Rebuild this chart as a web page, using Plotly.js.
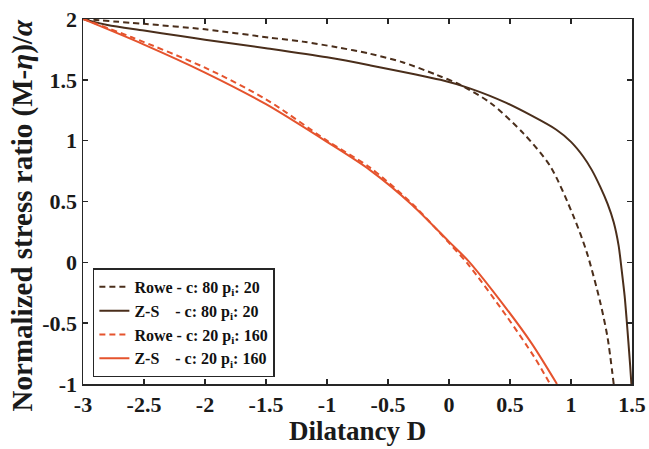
<!DOCTYPE html>
<html>
<head>
<meta charset="utf-8">
<script src="https://cdn.plot.ly/plotly-3.0.1.min.js"></script>
<style>html,body{margin:0;padding:0;background:#fff;}#chart{width:649px;height:449px;}</style>
</head>
<body>
<div id="chart"></div>
<script>
// Rowe - c: 80 pi: 20 (dashed, dark brown)
const roweC80X = [-3, -2.5, -2.0, -1.47, -1.2, -0.92, -0.65, -0.38, -0.1, 0.09, 0.34, 0.61, 0.83, 1.02, 1.13, 1.24, 1.30, 1.35];
const roweC80Y = [2.0, 1.96, 1.915, 1.847, 1.814, 1.768, 1.715, 1.645, 1.54, 1.46, 1.31, 1.06, 0.79, 0.38, 0.08, -0.33, -0.62, -1.0];
// Z-S - c: 80 pi: 20 (solid, dark brown)
const zsC80X = [-3, -2.8, -2.5, -2.2, -2.0, -1.5, -1.0, -0.65, -0.07, 0.17, 0.47, 0.88, 1.0, 1.10, 1.17, 1.24, 1.30, 1.35, 1.39, 1.415, 1.44, 1.456, 1.47, 1.485, 1.495];
const zsC80Y = [2.0, 1.95, 1.905, 1.86, 1.83, 1.76, 1.685, 1.62, 1.50, 1.43, 1.31, 1.09, 0.99, 0.87, 0.76, 0.62, 0.48, 0.33, 0.14, -0.06, -0.28, -0.47, -0.65, -0.85, -1.0];
// Rowe - c: 20 pi: 160 (dashed, orange)
const roweC20X = [-3, -2.6, -2.0, -1.5, -1.0, -0.65, -0.3, 0.0, 0.16, 0.47, 0.70, 0.828];
const roweC20Y = [2.0, 1.85, 1.60, 1.34, 1.00, 0.78, 0.48, 0.16, -0.02, -0.44, -0.78, -1.0];
// Z-S - c: 20 pi: 160 (solid, orange)
const zsC20X = [-3, -2.5, -2.0, -1.5, -1.0, -0.65, -0.3, 0.0, 0.16, 0.47, 0.68, 0.885];
const zsC20Y = [2.0, 1.79, 1.56, 1.30, 0.99, 0.76, 0.47, 0.17, 0.01, -0.38, -0.67, -1.0];

const xTicks = [-3, -2.5, -2, -1.5, -1, -0.5, 0, 0.5, 1, 1.5];
const yTicks = [-1, -0.5, 0, 0.5, 1, 1.5, 2];

const brown = '#4a2e1b';
const orange = '#e5532d';
const fontFam = 'Liberation Serif, Times New Roman, serif';

const traces = [
  {x: roweC80X, y: roweC80Y, mode: 'lines', line: {color: brown, width: 2, dash: '6px,4px', shape: 'spline', smoothing: 0.8}, name: 'Rowe - c: 80 p<sub>i</sub>: 20'},
  {x: zsC80X, y: zsC80Y, mode: 'lines', line: {color: brown, width: 2, shape: 'spline', smoothing: 0.8}, name: 'Z-S &nbsp;&nbsp;&nbsp;- c: 80 p<sub>i</sub>: 20'},
  {x: roweC20X, y: roweC20Y, mode: 'lines', line: {color: orange, width: 2, dash: '6px,4px', shape: 'spline', smoothing: 0.8}, name: 'Rowe - c: 20 p<sub>i</sub>: 160'},
  {x: zsC20X, y: zsC20Y, mode: 'lines', line: {color: orange, width: 2, shape: 'spline', smoothing: 0.8}, name: 'Z-S &nbsp;&nbsp;&nbsp;- c: 20 p<sub>i</sub>: 160'}
];

const axisCommon = {
  showgrid: false, zeroline: false, showline: true, linecolor: '#262626', linewidth: 1.5,
  mirror: 'ticks', ticks: 'inside', ticklen: 5, tickcolor: '#262626', tickwidth: 1.5,
  tickfont: {family: fontFam, size: 22, color: '#1a1a1a', weight: 700}
};

const layout = {
  width: 649, height: 449,
  margin: {l: 83, r: 17, t: 19, b: 65},
  paper_bgcolor: '#fff', plot_bgcolor: '#fff',
  showlegend: true,
  xaxis: Object.assign({}, axisCommon, {
    range: [-3, 1.5], tickvals: xTicks, ticktext: xTicks.map(String)
  }),
  yaxis: Object.assign({}, axisCommon, {
    range: [-1, 2], tickvals: yTicks, ticktext: yTicks.map(String)
  }),
  annotations: [{
    text: 'Normalized stress ratio (M-<i>η</i>)/<i>α</i>',
    xref: 'paper', yref: 'paper', x: -0.111, y: 0.462, xanchor: 'center', yanchor: 'middle',
    textangle: -90, showarrow: false,
    font: {family: fontFam, size: 29, color: '#1a1a1a', weight: 700}
  }, {
    text: 'Dilatancy D',
    xref: 'paper', yref: 'paper', x: 0.5, y: -0.128, xanchor: 'center', yanchor: 'middle',
    showarrow: false,
    font: {family: fontFam, size: 27, color: '#1a1a1a', weight: 700}
  }],
  legend: {
    x: 0.018, y: 0.018, xanchor: 'left', yanchor: 'bottom',
    bgcolor: '#fff', bordercolor: '#262626', borderwidth: 1.5,
    font: {family: fontFam, size: 16, color: '#111', weight: 700},
    tracegroupgap: 0, itemwidth: 30
  }
};

Plotly.newPlot('chart', traces, layout, {staticPlot: true, displayModeBar: false});
</script>
</body>
</html>
